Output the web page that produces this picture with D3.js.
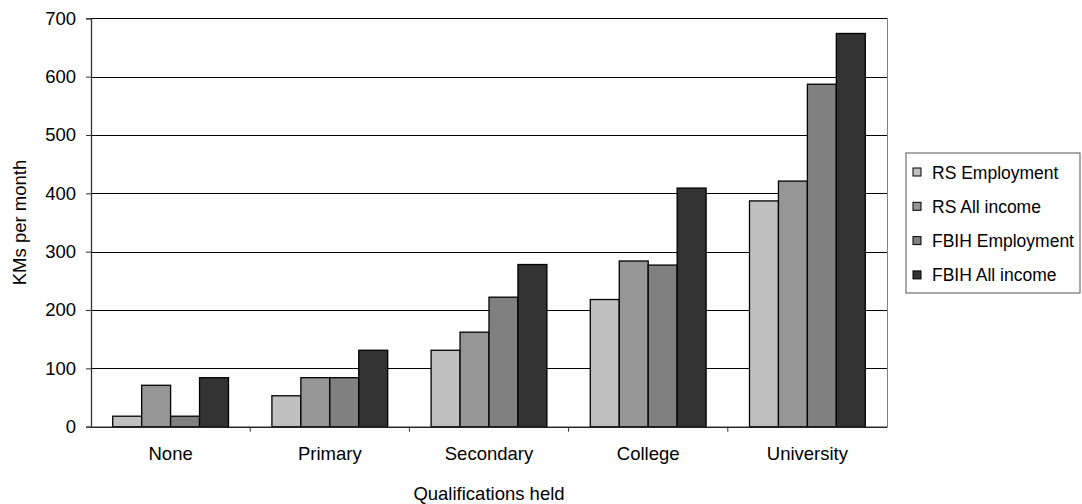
<!DOCTYPE html>
<html>
<head>
<meta charset="utf-8">
<script src="https://cdn.jsdelivr.net/npm/d3@7"></script>
<style>
  body { margin: 0; background: #fff; }
  svg { font-family: "Liberation Sans", Arial, sans-serif; }
</style>
</head>
<body>
<svg id="chart" width="1082" height="504"></svg>
<script>
// Qualifications vs monthly income (KM)
const categories = ['None', 'Primary', 'Secondary', 'College', 'University'];
const seriesNames = ['RS Employment', 'RS All income', 'FBIH Employment', 'FBIH All income'];
const rsEmployment   = [18, 53, 131, 218, 387];
const rsAllIncome    = [71, 84, 162, 284, 421];
const fbihEmployment = [18, 84, 222, 277, 587];
const fbihAllIncome  = [84, 131, 278, 409, 674];
const yTicks = [0, 100, 200, 300, 400, 500, 600, 700];
const colors = ['#c0c0c0', '#969696', '#808080', '#333333'];

const seriesValues = [rsEmployment, rsAllIncome, fbihEmployment, fbihAllIncome];

const svg = d3.select('#chart');
const m = { left: 91, right: 887, top: 18.3, bottom: 426.7 };
const fontSize = 18.5;

const x0 = d3.scaleBand().domain(categories).range([m.left, m.right]).padding(0);
const gap = x0.bandwidth() * 1.5 / 5.5 / 2;
const x1 = d3.scaleBand().domain(seriesNames).range([gap, x0.bandwidth() - gap]).padding(0);
const y = d3.scaleLinear().domain([0, 700]).range([m.bottom, m.top]);

// gridlines
svg.append('g')
  .attr('transform', `translate(${m.left},0)`)
  .call(d3.axisLeft(y).tickValues(yTicks).tickSize(-(m.right - m.left)).tickFormat(''))
  .call(g => g.select('.domain').remove())
  .call(g => g.selectAll('line').attr('stroke', '#000').attr('shape-rendering', 'crispEdges'));

// right border of plot
svg.append('line')
  .attr('x1', m.right).attr('x2', m.right)
  .attr('y1', y(700)).attr('y2', y(0))
  .attr('stroke', '#808080').attr('shape-rendering', 'crispEdges');

// bars
const groups = svg.append('g').selectAll('g')
  .data(categories)
  .join('g')
  .attr('transform', d => `translate(${x0(d)},0)`);

groups.selectAll('rect')
  .data((c, i) => seriesNames.map((s, j) => ({ s, j, v: seriesValues[j][i] })))
  .join('rect')
  .attr('x', d => x1(d.s))
  .attr('y', d => y(d.v))
  .attr('width', x1.bandwidth())
  .attr('height', d => y(0) - y(d.v))
  .attr('fill', d => colors[d.j])
  .attr('stroke', '#000')
  .attr('stroke-width', 1.3);

// y axis
const yAxis = svg.append('g')
  .attr('transform', `translate(${m.left},0)`)
  .call(d3.axisLeft(y).tickValues(yTicks).tickSize(5).tickPadding(10));
yAxis.select('.domain').attr('stroke', '#333').attr('stroke-width', 1.3);
yAxis.selectAll('line').attr('stroke', '#333');
yAxis.selectAll('text')
  .attr('font-size', fontSize).attr('fill', '#000')
  .attr('font-family', 'Liberation Sans, Arial, sans-serif');

// x axis
const xAxis = svg.append('g')
  .attr('transform', `translate(0,${m.bottom})`)
  .call(d3.axisBottom(x0).tickSize(0).tickPadding(20));
xAxis.select('.domain').attr('stroke', '#333').attr('stroke-width', 1.3);
xAxis.selectAll('text')
  .attr('font-size', fontSize).attr('fill', '#000')
  .attr('font-family', 'Liberation Sans, Arial, sans-serif');

// category separators
svg.append('g').selectAll('line')
  .data(categories.slice(1))
  .join('line')
  .attr('x1', d => x0(d)).attr('x2', d => x0(d))
  .attr('y1', m.bottom).attr('y2', m.bottom + 5)
  .attr('stroke', '#333');

// axis titles
svg.append('text')
  .attr('x', (m.left + m.right) / 2)
  .attr('y', 500)
  .attr('text-anchor', 'middle')
  .attr('font-size', fontSize)
  .text('Qualifications held');

svg.append('text')
  .attr('transform', `translate(26,${(m.top + m.bottom) / 2}) rotate(-90)`)
  .attr('text-anchor', 'middle')
  .attr('font-size', fontSize)
  .text('KMs per month');

// legend
const lg = svg.append('g').attr('transform', 'translate(906,153)');
lg.append('rect')
  .attr('width', 174).attr('height', 140)
  .attr('fill', '#fff').attr('stroke', '#555');
const items = lg.selectAll('g.item')
  .data(seriesNames)
  .join('g')
  .attr('class', 'item')
  .attr('transform', (d, i) => `translate(7,${19 + i * 34.3})`);
items.append('rect')
  .attr('x', 0).attr('y', -4)
  .attr('width', 8).attr('height', 8)
  .attr('fill', (d, i) => colors[i])
  .attr('stroke', '#000');
items.append('text')
  .attr('x', 19).attr('y', 6.5)
  .attr('font-size', 17.5)
  .text(d => d);
</script>
</body>
</html>
